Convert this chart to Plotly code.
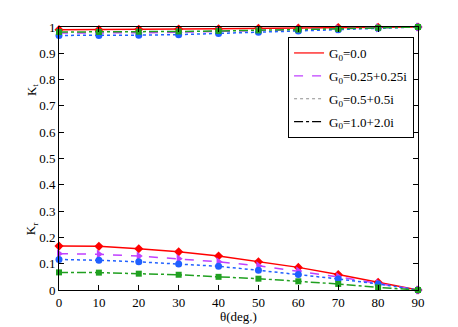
import plotly.graph_objects as go

theta = [0, 10, 20, 30, 40, 50, 60, 70, 80, 90]

kt_g00 = [0.990, 0.990, 0.991, 0.992, 0.993, 0.995, 0.996, 0.998, 0.999, 1.0]
kt_g025 = [0.977, 0.977, 0.978, 0.980, 0.983, 0.986, 0.990, 0.993, 0.997, 1.0]
kt_g05 = [0.968, 0.968, 0.969, 0.971, 0.975, 0.980, 0.985, 0.990, 0.995, 1.0]
kt_g10 = [0.981, 0.981, 0.982, 0.983, 0.985, 0.987, 0.990, 0.993, 0.997, 1.0]

kr_g00 = [0.167, 0.166, 0.157, 0.145, 0.129, 0.107, 0.086, 0.059, 0.029, 0.0]
kr_g025 = [0.138, 0.136, 0.129, 0.119, 0.107, 0.092, 0.072, 0.050, 0.025, 0.0]
kr_g05 = [0.116, 0.113, 0.107, 0.099, 0.090, 0.075, 0.059, 0.042, 0.023, 0.0]
kr_g10 = [0.067, 0.066, 0.062, 0.058, 0.050, 0.043, 0.033, 0.023, 0.010, 0.0]

labels = ["G<sub>0</sub>=0.0", "G<sub>0</sub>=0.25+0.25i",
          "G<sub>0</sub>=0.5+0.5i", "G<sub>0</sub>=1.0+2.0i"]

series = [
    (kt_g00, kr_g00, "#ff0000", "solid", "diamond", 7),
    (kt_g025, kr_g025, "#c040ff", "dash", "triangle-right", 8),
    (kt_g05, kr_g05, "#2060ff", "dot", "circle", 7),
    (kt_g10, kr_g10, "#20a020", "dashdot", "square", 6),
]
legend_styles = [("#ff0000", "solid"), ("#c040ff", "dash"),
                 ("#909090", "dot"), ("#000000", "dashdot")]

FONT = "Liberation Serif, Times New Roman, serif"

fig = go.Figure()
for kt, kr, color, dash, sym, sz in series:
    for yy in (kt, kr):
        fig.add_trace(go.Scatter(
            x=theta, y=yy, mode="lines+markers", showlegend=False,
            line=dict(color=color, dash=dash, width=1.5),
            marker=dict(symbol=sym, size=sz, color=color),
            cliponaxis=False))

for i, (lab, (c, d)) in enumerate(zip(labels, legend_styles)):
    fig.add_trace(go.Scatter(x=[None], y=[None], mode="lines", name=lab,
                             legendgroup=f"g{i}",
                             line=dict(color=c, dash=d, width=1.2)))

axis_common = dict(showgrid=False, zeroline=False, showline=True, linecolor="black",
                   linewidth=1, mirror="ticks", ticks="inside", ticklen=5,
                   tickcolor="black", tickfont=dict(family=FONT, size=13, color="black"))

fig.update_layout(
    width=450, height=319,
    margin=dict(l=51, r=40, t=17, b=37),
    paper_bgcolor="white", plot_bgcolor="white",
    font=dict(family=FONT, size=13, color="black"),
    xaxis=dict(range=[0, 90], tickvals=theta, **axis_common),
    yaxis=dict(range=[0, 1], tickvals=[0, 0.1, 0.2, 0.3, 0.4, 0.5, 0.6, 0.7, 0.8, 0.9, 1],
               ticktext=["0", "0.1", "0.2", "0.3", "0.4", "0.5", "0.6", "0.7", "0.8", "0.9", "1"],
               **axis_common),
    legend=dict(x=0.989, y=0.962, xanchor="right", yanchor="top",
                bgcolor="white", bordercolor="black", borderwidth=1,
                font=dict(family=FONT, size=13), tracegroupgap=3, itemwidth=30),
    showlegend=True,
    annotations=[
        dict(text="θ(deg.)", xref="paper", yref="paper", x=0.5, y=-0.1,
             xanchor="center", yanchor="middle", showarrow=False,
             font=dict(family=FONT, size=13)),
        dict(text="K<sub>t</sub>", xref="paper", yref="paper", x=-0.105, y=0.79,
             textangle=-90, showarrow=False, font=dict(family=FONT, size=13)),
        dict(text="K<sub>r</sub>", xref="paper", yref="paper", x=-0.105, y=0.2,
             textangle=-90, showarrow=False, font=dict(family=FONT, size=13)),
    ],
)

fig.write_html("out.html")
